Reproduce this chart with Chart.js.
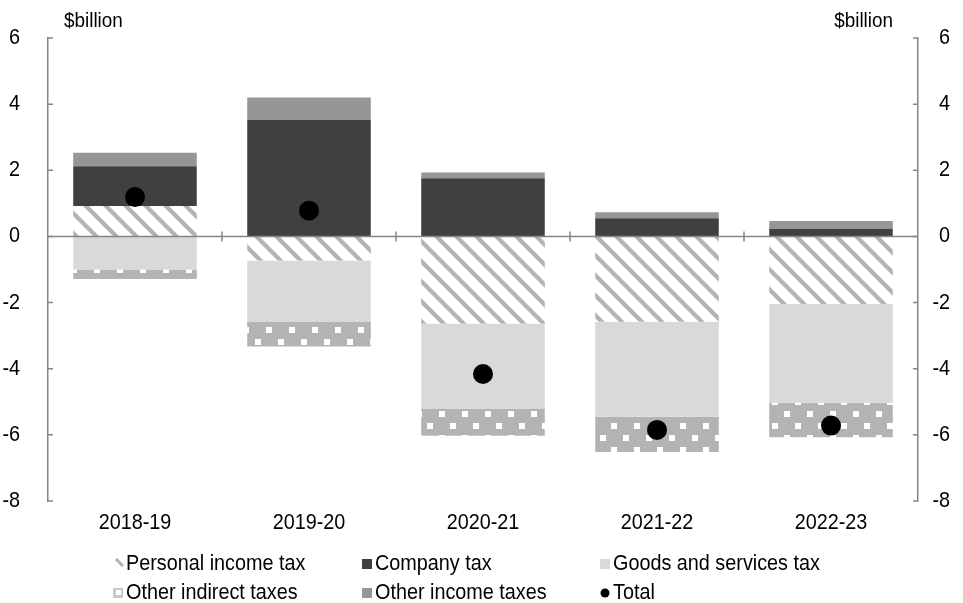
<!DOCTYPE html>
<html>
<head>
<meta charset="utf-8">
<script src="https://cdn.jsdelivr.net/npm/chart.js@4.4.1/dist/chart.umd.min.js"></script>
<style>
  html, body { margin: 0; padding: 0; background: #fff; }
  #wrap { position: relative; width: 963px; height: 603px; }
  canvas { display: block; }
</style>
</head>
<body>
<div id="wrap"><canvas id="c" width="963" height="603"></canvas></div>
<script>
const categories = ['2018-19', '2019-20', '2020-21', '2021-22', '2022-23'];
const personalIncomeTax = [0.92, -0.73, -2.63, -2.58, -2.04];
const companyTax = [1.20, 3.52, 1.76, 0.55, 0.23];
const goodsAndServicesTax = [-1.00, -1.86, -2.57, -2.87, -2.99];
const otherIndirectTaxes = [-0.29, -0.74, -0.83, -1.07, -1.04];
const otherIncomeTaxes = [0.41, 0.68, 0.17, 0.18, 0.24];
const total = [1.19, 0.78, -4.16, -5.85, -5.72];
const yTicks = [-8, -6, -4, -2, 0, 2, 4, 6];
const unitLabel = '$billion';

const FONT = "'Liberation Sans', Arial, sans-serif";
const SX = 0.9;           // horizontal squeeze to mimic the narrow face
const FS = 22;
const AXIS_COLOR = '#868686';
const C_COMPANY = '#404040';
const C_GST = '#d9d9d9';
const C_OTHER_INCOME = '#969696';
const C_PATTERN = '#b3b3b3';

function stripePattern() {
  const s = 20;
  const cv = document.createElement('canvas');
  cv.width = s; cv.height = s;
  const g = cv.getContext('2d');
  g.fillStyle = '#fff';
  g.fillRect(0, 0, s, s);
  g.strokeStyle = C_PATTERN;
  g.lineWidth = 4.2;
  for (let k = -1; k <= 1; k++) {
    g.beginPath();
    g.moveTo(k * s - 2, -2);
    g.lineTo(k * s + s + 2, s + 2);
    g.stroke();
  }
  return g.createPattern(cv, 'repeat');
}
function dotPattern() {
  const w = 23, h = 24;
  const cv = document.createElement('canvas');
  cv.width = w; cv.height = h;
  const g = cv.getContext('2d');
  g.fillStyle = C_PATTERN;
  g.fillRect(0, 0, w, h);
  g.fillStyle = '#fff';
  g.fillRect(2, 3, 6, 6);
  g.fillRect(13, 15, 6, 6);
  return g.createPattern(cv, 'repeat');
}
const ctx0 = document.getElementById('c').getContext('2d');
const P_STRIPE = stripePattern();
const P_DOT = dotPattern();

function squeezedText(ctx, text, x, y, align, size) {
  ctx.save();
  ctx.font = size + 'px ' + FONT;
  ctx.textBaseline = 'middle';
  ctx.textAlign = align;
  ctx.translate(x, y);
  ctx.scale(SX, 1);
  ctx.fillText(text, 0, 0);
  ctx.restore();
}

const decor = {
  id: 'decor',
  afterDatasetsDraw(chart) {
    const { ctx, chartArea, scales } = chart;
    const y = scales.y, x = scales.x;
    const y0 = y.getPixelForValue(0);
    ctx.save();
    ctx.strokeStyle = AXIS_COLOR;
    ctx.lineWidth = 1.5;
    ctx.beginPath();
    ctx.moveTo(chartArea.left, y0);
    ctx.lineTo(chartArea.right, y0);
    ctx.stroke();
    for (let i = 0; i < categories.length - 1; i++) {
      const xb = (x.getPixelForValue(i) + x.getPixelForValue(i + 1)) / 2;
      ctx.beginPath();
      ctx.moveTo(xb, y0 - 5);
      ctx.lineTo(xb, y0 + 5);
      ctx.stroke();
    }
    yTicks.forEach(v => {
      const py = y.getPixelForValue(v);
      ctx.beginPath();
      ctx.moveTo(chartArea.left, py);
      ctx.lineTo(chartArea.left + 5, py);
      ctx.moveTo(chartArea.right, py);
      ctx.lineTo(chartArea.right - 5, py);
      ctx.stroke();
    });
    ctx.restore();
  },
  afterDraw(chart) {
    const { ctx, chartArea, scales } = chart;
    ctx.save();
    ctx.fillStyle = '#000';
    yTicks.forEach(v => {
      const py = scales.y.getPixelForValue(v);
      squeezedText(ctx, String(v), chartArea.left - 28, py, 'right', FS);
      squeezedText(ctx, String(v), 950, py, 'right', FS);
    });
    categories.forEach((c, i) => {
      squeezedText(ctx, c, scales.x.getPixelForValue(i), chartArea.bottom + 22, 'center', FS);
    });
    squeezedText(ctx, unitLabel, chartArea.left + 16, 21, 'left', 21);
    squeezedText(ctx, unitLabel, chartArea.right - 25, 21, 'right', 21);

    const items = [
      { label: 'Personal income tax', kind: 'stripe' },
      { label: 'Company tax', fill: C_COMPANY },
      { label: 'Goods and services tax', fill: C_GST },
      { label: 'Other indirect taxes', kind: 'dot' },
      { label: 'Other income taxes', fill: C_OTHER_INCOME },
      { label: 'Total', kind: 'circle' }
    ];
    const colX = [113, 362, 600];
    const rowY = [564, 593];
    items.forEach((it, i) => {
      const cx = colX[i % 3], cy = rowY[Math.floor(i / 3)];
      if (it.kind === 'circle') {
        ctx.fillStyle = '#000';
        ctx.beginPath();
        ctx.arc(cx + 5, cy, 4.5, 0, Math.PI * 2);
        ctx.fill();
      } else if (it.kind === 'stripe') {
        ctx.fillStyle = '#fff';
        ctx.fillRect(cx, cy - 5, 10, 10);
        ctx.strokeStyle = C_PATTERN;
        ctx.lineWidth = 3;
        ctx.beginPath();
        ctx.moveTo(cx + 3, cy - 5);
        ctx.lineTo(cx + 10, cy + 2);
        ctx.stroke();
      } else if (it.kind === 'dot') {
        ctx.fillStyle = '#c8c8c8';
        ctx.fillRect(cx, cy - 5, 10, 10);
        ctx.fillStyle = '#fff';
        ctx.fillRect(cx + 3, cy - 3, 5, 5);
      } else {
        ctx.fillStyle = it.fill;
        ctx.fillRect(cx, cy - 5, 10, 10);
      }
      ctx.fillStyle = '#000';
      squeezedText(ctx, it.label, cx + 13, cy, 'left', FS);
    });
    ctx.restore();
  }
};

const barCommon = { stack: 'bars', borderWidth: 0, barPercentage: 0.71, categoryPercentage: 1.0, order: 2, yAxisID: 'y' };

new Chart(ctx0, {
  type: 'bar',
  data: {
    labels: categories,
    datasets: [
      Object.assign({ label: 'Personal income tax', data: personalIncomeTax, backgroundColor: P_STRIPE }, barCommon),
      Object.assign({ label: 'Company tax', data: companyTax, backgroundColor: C_COMPANY }, barCommon),
      Object.assign({ label: 'Goods and services tax', data: goodsAndServicesTax, backgroundColor: C_GST }, barCommon),
      Object.assign({ label: 'Other indirect taxes', data: otherIndirectTaxes, backgroundColor: P_DOT }, barCommon),
      Object.assign({ label: 'Other income taxes', data: otherIncomeTaxes, backgroundColor: C_OTHER_INCOME }, barCommon),
      {
        type: 'line', label: 'Total', data: total, stack: 'line', yAxisID: 'y',
        showLine: false, pointRadius: 10, pointHoverRadius: 10,
        pointBackgroundColor: '#000', pointBorderWidth: 0, borderColor: '#000', order: 0
      }
    ]
  },
  options: {
    responsive: false,
    animation: false,
    events: [],
    layout: { padding: { left: 0, right: 13, top: 38, bottom: 61 } },
    plugins: { legend: { display: false }, tooltip: { enabled: false }, title: { display: false } },
    scales: {
      x: {
        stacked: true,
        grid: { display: false, drawTicks: false },
        border: { display: false },
        ticks: { display: false },
        afterFit: s => { s.height = 41; }
      },
      y: {
        stacked: true, position: 'left', min: -8, max: 6,
        afterBuildTicks: s => { s.ticks = yTicks.map(v => ({ value: v })); },
        grid: { display: false, drawTicks: false },
        border: { display: true, color: AXIS_COLOR, width: 1.5 },
        ticks: { display: false },
        afterFit: s => { s.width = 48; }
      },
      y2: {
        position: 'right', min: -8, max: 6,
        afterBuildTicks: s => { s.ticks = yTicks.map(v => ({ value: v })); },
        grid: { display: false, drawTicks: false },
        border: { display: true, color: AXIS_COLOR, width: 1.5 },
        ticks: { display: false },
        afterFit: s => { s.width = 32; }
      }
    }
  },
  plugins: [decor]
});
</script>
</body>
</html>
